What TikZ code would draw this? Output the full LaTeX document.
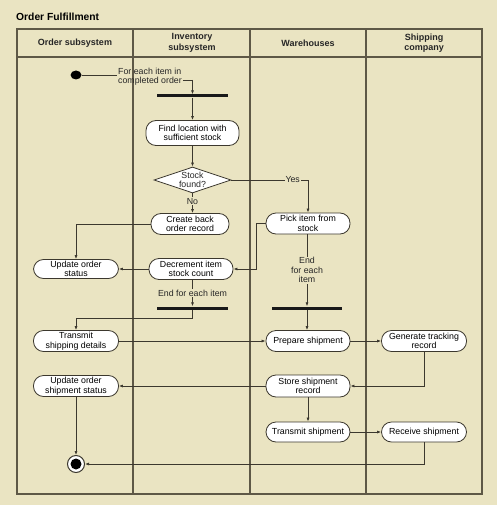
\documentclass[tikz,border=0pt]{standalone}
\usepackage{fontspec}
\setmainfont{Liberation Sans}
\usetikzlibrary{shapes.geometric,arrows.meta}
\definecolor{bg}{HTML}{EAE4C2}
\definecolor{frame}{HTML}{5E5846}
\definecolor{conn}{HTML}{3C382E}
\begin{document}
\begin{tikzpicture}[x=1pt,y=-1pt,
  act/.style={draw=conn, line width=0.8pt, fill=white, rounded corners=10pt, minimum height=21pt, minimum width=84pt, align=center, inner sep=1pt, font=\fontsize{8.8}{9.5}\selectfont},
  lbl/.style={font=\fontsize{8.8}{9.5}\selectfont, align=center, inner sep=1pt, text=black!85},
  hdr/.style={font=\bfseries\fontsize{9}{10.5}\selectfont, align=center, text=black!85},
  bar/.style={fill=black!90, minimum width=71pt, minimum height=3pt, inner sep=0pt},
  conn/.style={draw=conn, line width=0.7pt},
  arr/.style={conn, -{Latex[length=4pt,width=3pt]}}]
\fill[bg] (0,0) rectangle (497,505);
\useasboundingbox (0,0) rectangle (497,505);
\node[font=\bfseries\fontsize{10.3}{11}\selectfont, anchor=west, inner sep=0pt] (title) at (16,17) {Order Fulfillment};
% frame
\draw[frame, line width=1.4pt] (17,29) rectangle (482,494);
\draw[frame, line width=1.4pt] (17,57) -- (482,57);
\draw[frame, line width=1.4pt] (133,29) -- (133,494);
\draw[frame, line width=1.4pt] (250,29) -- (250,494);
\draw[frame, line width=1.4pt] (366,29) -- (366,494);
\node[hdr] (h1) at (75,43) {Order subsystem};
\node[hdr] (h2) at (192,43) {Inventory\\subsystem};
\node[hdr] (h3) at (308,43) {Warehouses};
\node[hdr] (h4) at (424,43) {Shipping\\company};
% nodes
\node[ellipse, fill=black, minimum width=11pt, minimum height=9pt, inner sep=0pt] (start) at (76,75) {};
\node[lbl, align=left, anchor=west] (for) at (117,76.5) {For each item in\\completed order};
\node[bar] (bar1) at (192.5,96) {};
\node[act, minimum width=93pt, minimum height=25pt] (find) at (192.5,133) {Find location with\\sufficient stock};
\node[diamond, draw=conn, line width=0.8pt, fill=white, minimum width=77pt, minimum height=26pt, inner sep=0pt] (dia) at (192.5,180) {};
\node[lbl] (diat) at (dia) {Stock\\found?};
\node[act, minimum width=78pt] (cbo) at (190,224) {Create back\\order record};
\node[act, minimum width=85pt, minimum height=19pt] (uos) at (76,269) {Update order\\status};
\node[act] (dec) at (191,269) {Decrement item\\stock count};
\node[act] (pick) at (308,223.5) {Pick item from\\stock};
\node[bar] (bar2) at (192.5,308) {};
\node[bar, minimum width=70pt] (bar3) at (307,308) {};
\node[act, minimum width=85pt] (tsd) at (76,341) {Transmit\\shipping details};
\node[act] (prep) at (308,341) {Prepare shipment};
\node[act, minimum width=85pt] (gen) at (424,341) {Generate tracking\\record};
\node[act, minimum height=22pt] (store) at (308,386) {Store shipment\\record};
\node[act, minimum width=85pt] (uoss) at (76,386) {Update order\\shipment status};
\node[act, minimum height=20pt] (tship) at (308,432) {Transmit shipment};
\node[act, minimum width=85pt, minimum height=20pt] (recv) at (424,432) {Receive shipment};
\node[circle, draw=conn, line width=1pt, fill=white, minimum size=17pt, inner sep=0pt] (end) at (76,464) {};
\node[circle, fill=black, minimum size=11pt, inner sep=0pt] (endin) at (end) {};
% connectors
\coordinate (c0) at (192.5,80);
\draw[conn] (start) -- (start -| for.west);
\draw[conn] (for.east |- c0) -- (c0);
\draw[arr] (c0) -- (bar1);
\draw[arr] (bar1) -- (find);
\draw[arr] (find) -- (dia);
\draw[arr] (dia) -- node[lbl, fill=bg, pos=0.4] (no) {No} (cbo.north -| dia);
\draw[arr] (dia.east) -| node[lbl, fill=bg, pos=0.4] (yes) {Yes} (pick.north);
\draw[arr] (cbo.west) -| (uos.north);
\draw[arr] (dec) -- (uos);
\coordinate (c1) at (256,223.5);
\draw[conn] (pick.west) -- (c1);
\draw[arr] (c1) |- (dec.east);
\draw[arr] (dec.south -| bar2) -- node[lbl, fill=bg] (efe1) {End for each item} (bar2);
\draw[arr] (pick.south -| bar3) -- node[lbl, fill=bg] (efe2) {End\\for each\\item} (bar3);
\coordinate (c2) at (192.5,318);
\draw[conn] (bar2) -- (c2);
\draw[arr] (c2) -| (tsd.north);
\draw[arr] (bar3) -- (prep.north -| bar3);
\draw[arr] (tsd) -- (prep);
\draw[arr] (prep) -- (gen);
\draw[arr] (gen.south) |- (store.east);
\draw[arr] (store) -- (uoss);
\draw[arr] (uoss) -- (end);
\draw[arr] (store) -- (tship);
\draw[arr] (tship) -- (recv);
\draw[arr] (recv.south) |- (end.east);
\end{tikzpicture}
\end{document}
